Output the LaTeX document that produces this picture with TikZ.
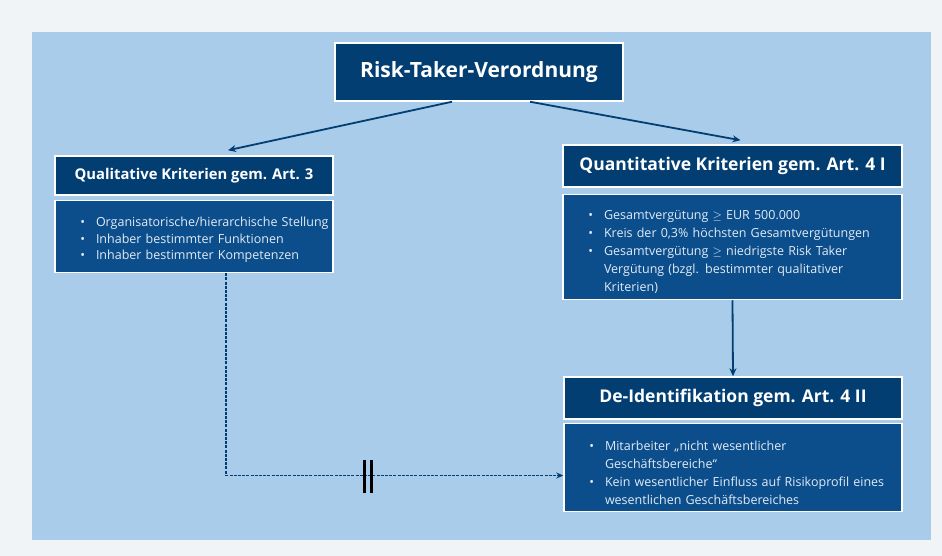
\documentclass[tikz,border=0pt]{standalone}
\usepackage{fontspec}
\setmainfont{Open Sans}
\usepackage{enumitem}
\usetikzlibrary{arrows.meta,positioning}

\definecolor{navy}{HTML}{033E73}
\definecolor{bodyblue}{HTML}{0C4E8C}
\definecolor{panelblue}{HTML}{A9CCEA}
\definecolor{pagegray}{HTML}{F1F4F6}
\definecolor{softwhite}{HTML}{E2EBF5}

\newcommand{\bullets}[1]{%
	\begin{itemize}[leftmargin=35pt,labelsep=11pt,itemsep=0pt,topsep=0pt,parsep=0pt,label={\textbullet}]
		#1
	\end{itemize}}

\tikzset{
	headbox/.style={draw=white, line width=1.5pt, fill=navy, text=white, inner sep=0pt,
		font=\bfseries\fontsize{17.5}{20}\selectfont},
	bodybox/.style={draw=white, line width=1.5pt, fill=bodyblue, text=softwhite,
		inner xsep=6pt, inner ysep=0pt, align=left,
		font=\fontsize{12.5}{18}\selectfont},
	link/.style={draw=navy, line width=1.8pt, -{Stealth[length=8pt,width=7pt]}},
	dashlink/.style={draw=navy, line width=1.6pt, dash pattern=on 3pt off 1.2pt, -{Stealth[length=7pt,width=6pt]}},
}

\begin{document}
\begin{tikzpicture}[x=1pt, y=-1pt, node distance=4pt]
	\useasboundingbox (0,0) rectangle (942,556);
	% Background
	\fill[pagegray] (0,0) rectangle (942,556);
	\fill[panelblue] (32,32) rectangle (931,540);

	% Nodes
	\node[headbox, minimum width=288, minimum height=58, font=\bfseries\fontsize{21}{24}\selectfont] (risk) at (479,72) {Risk-Taker-Verordnung};

	\node[headbox, minimum width=278, minimum height=39, font=\bfseries\fontsize{14.8}{17}\selectfont] (qualH) at (194,175.5) {Qualitative Kriterien gem. Art. 3};
	\node[bodybox, below=4pt of qualH, minimum height=72, text width=266, font=\fontsize{12.5}{16.5}\selectfont] (qualB) {\bullets{
		\item \makebox[\linewidth][l]{Organisatorische/hierarchische Stellung}
		\item Inhaber bestimmter Funktionen
		\item Inhaber bestimmter Kompetenzen}};

	\node[headbox, minimum width=339, minimum height=42] (quantH) at (732.5,166) {Quantitative Kriterien gem. Art. 4 I};
	\node[bodybox, below=6pt of quantH, minimum height=105, text width=327] (quantB) {\bullets{
		\item Gesamtvergütung $\geq$ EUR 500.000
		\item \makebox[\linewidth][l]{Kreis der 0,3\% höchsten Gesamtvergütungen}
		\item Gesamtvergütung $\geq$ niedrigste Risk Taker\\Vergütung (bzgl. bestimmter qualitativer\\Kriterien)}};

	\node[headbox, minimum width=338, minimum height=42] (deidH) at (733,398) {De-Identifikation gem. Art. 4 II};
	\node[bodybox, below=3pt of deidH, minimum height=88, text width=326] (deidB) {\vspace*{2pt}\bullets{
		\item Mitarbeiter „nicht wesentlicher\\Geschäftsbereiche“
		\item \makebox[\linewidth][l]{Kein wesentlicher Einfluss auf Risikoprofil eines}\\wesentlichen Geschäftsbereiches}};

	% Connectors
	\draw[link] ([xshift=-27pt]risk.south) -- ([xshift=34pt,yshift=5pt]qualH.north);
	\draw[link] ([xshift=51pt]risk.south) -- ([xshift=8pt,yshift=4pt]quantH.north);
	\draw[link] (quantB.south) -- (deidH.north);
	\draw[dashlink] ([xshift=32pt]qualB.south) |- ([yshift=-8pt]deidB.west) node[pos=0.71] (brk) {};
	\foreach \dx in {-3.5,3.5} {
		\draw[line width=3pt] ([xshift=\dx pt,yshift=16pt]brk.center) -- ([xshift=\dx pt,yshift=-17pt]brk.center);
	}
\end{tikzpicture}
\end{document}
